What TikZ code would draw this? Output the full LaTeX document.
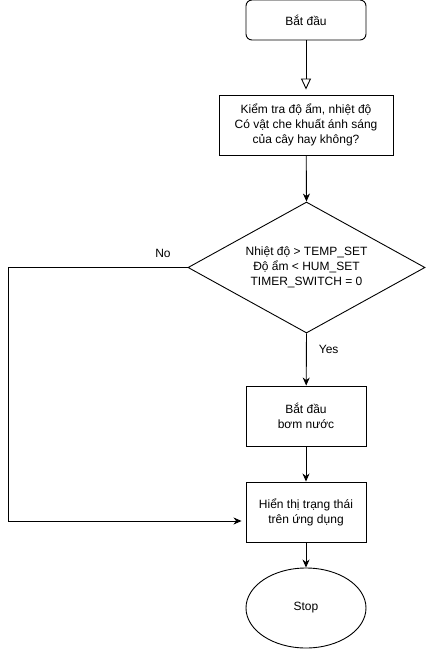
\documentclass[tikz,border=0pt]{standalone}
\usepackage{fontspec}
\setmainfont{Liberation Sans}
\usetikzlibrary{shapes.geometric,arrows.meta}
\begin{document}
\begin{tikzpicture}[x=1pt,y=-1pt,
  every node/.style={font=\fontsize{12}{15}\selectfont, align=center, inner sep=0pt},
  procbox/.style={draw, line width=0.9pt, minimum width=#1, minimum height=60},
  procbox/.default=120,
  conn/.style={line width=0.9pt, -{Stealth[length=8pt,width=7pt,inset=2.5pt]}},
  openconn/.style={line width=0.9pt, -{Triangle[open,length=11pt,width=10pt]}, shorten >=5pt}
]
\useasboundingbox (0,0) rectangle (426,649);
\node[draw, line width=0.9pt, rounded corners=6pt, minimum width=120, minimum height=40] (start) at (306,20) {Bắt đầu};
\node[procbox=174] (check) at (306,125) {Kiểm tra độ ẩm, nhiệt độ\\Có vật che khuất ánh sáng\\của cây hay không?};
\node[draw, line width=0.9pt, diamond, aspect=1.81, minimum width=237, minimum height=131, inner sep=0pt] (dec) at (306.5,267.5) {};
\node at (306.5,267.5) {Nhiệt độ > TEMP\_SET\\Độ ẩm < HUM\_SET\\TIMER\_SWITCH = 0};
\node[procbox] (pump) at (306,416) {Bắt đầu\\bơm nước};
\node[procbox] (show) at (306,512) {Hiển thị trạng thái\\trên ứng dụng};
\node[draw, line width=0.9pt, ellipse, minimum width=120, minimum height=80] (stop) at (306,608) {Stop};
\coordinate (nl) at (8,267.5);
\coordinate (nb) at (8,521);
\draw[openconn] (start) -- (check);
\draw[conn] (check) -- (dec.north);
\draw[conn] (dec.south) -- node[pos=0.3, right=12pt] {Yes} (pump);
\draw[conn] (pump) -- (show);
\draw[conn] (show) -- (stop);
\draw[conn, shorten >=4pt] (dec.west) -- (nl) -- (nb) -- (show.west |- nb);
\node (no) at (163,253) {No};
\end{tikzpicture}
\end{document}
